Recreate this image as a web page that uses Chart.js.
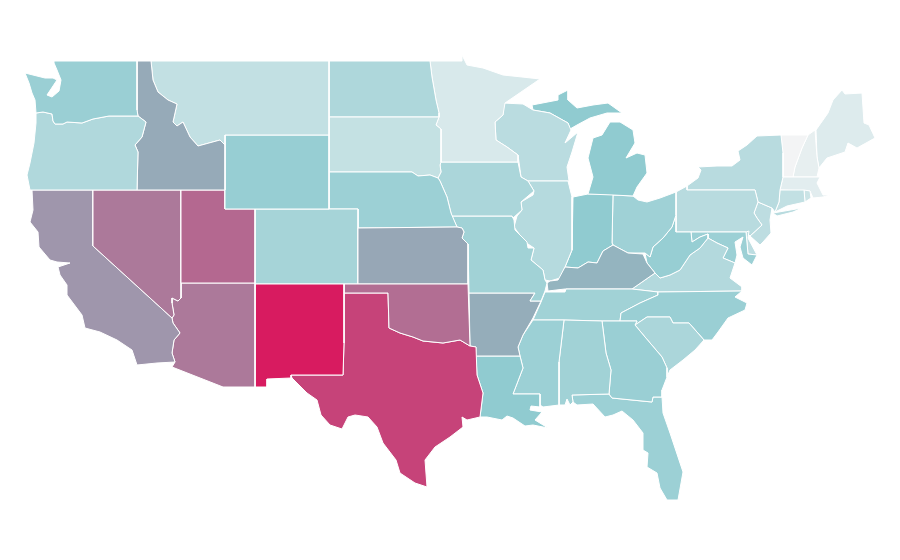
<!DOCTYPE html>
<html>
<head>
<meta charset="utf-8">
<title>US states choropleth</title>
<script src="https://cdn.jsdelivr.net/npm/chart.js@4.4.1/dist/chart.umd.min.js"></script>
<style>
  html, body { margin: 0; padding: 0; background: #fff; }
  #map { display: block; }
</style>
</head>
<body>
<canvas id="map" width="900" height="560"></canvas>
<script>
// State outlines in map units, [x, y] pairs
var WA = [[54,61],[137,61],[137,110],[138,116],[109,116],[93,119],[82,123],[67,122],[63,124],[55,124],[53,121],[52,114],[43,112],[36,113],[35,100],[32,93],[29,83],[25,73],[37,76],[45,78],[53,78],[57,80],[51,89],[47,95],[52,97],[59,91],[61,80],[57,70],[54,63]];
var OR = [[36,113],[43,112],[52,114],[53,121],[55,124],[63,124],[67,122],[82,123],[93,119],[109,116],[138,116],[146,122],[142,137],[135,145],[138,152],[137,190],[30,190],[27,175],[30,163],[34,143],[36,123]];
var ID = [[137,61],[151,61],[153,80],[158,92],[168,100],[177,104],[173,122],[177,126],[183,122],[190,137],[198,146],[220,140],[225,145],[225,190],[137,190],[138,152],[135,145],[142,137],[146,122],[138,116],[137,110]];
var MT = [[151,61],[329,61],[329,135],[225,135],[225,145],[220,140],[198,146],[190,137],[183,122],[177,126],[173,122],[177,104],[168,100],[158,92],[153,80]];
var WY = [[225,135],[329,135],[329,209],[255,209],[225,209]];
var UT = [[181,190],[225,190],[225,209],[255,209],[255,283],[181,283]];
var NV = [[93,190],[181,190],[181,298],[178,301],[172,298],[172,303],[174,315],[172,318],[93,246]];
var CA = [[32,190],[93,190],[93,246],[172,318],[173,323],[180,333],[174,340],[172,353],[175,362],[157,363],[137,365],[132,350],[117,340],[100,332],[85,328],[82,315],[67,295],[67,285],[60,275],[58,267],[70,263],[57,262],[50,260],[39,247],[38,232],[30,222],[33,210]];
var AZ = [[181,283],[255,283],[255,387],[223,387],[172,367],[175,362],[172,353],[174,340],[180,333],[173,323],[172,318],[174,315],[172,303],[172,298],[178,301],[181,298]];
var NM = [[255,284],[344,284],[344,343],[343,375],[291,375],[291,378],[267,379],[267,387],[255,387]];
var TX = [[344,293],[388,293],[389,328],[400,333],[413,337],[423,341],[443,343],[460,340],[470,346],[476,347],[477,375],[483,393],[480,417],[467,420],[462,417],[463,427],[450,437],[435,447],[425,460],[427,487],[415,483],[400,473],[396,460],[383,443],[377,427],[368,417],[355,415],[348,417],[342,429],[330,425],[321,415],[317,400],[307,393],[292,378],[291,375],[343,375],[344,343]];
var OK = [[344,284],[468,284],[470,346],[460,340],[443,343],[423,341],[413,337],[400,333],[389,328],[388,293],[344,293]];
var KS = [[358,228],[457,227],[462,228],[464,232],[462,238],[468,244],[468,284],[358,284]];
var CO = [[255,209],[358,209],[358,284],[255,284]];
var NE = [[329,172],[412,172],[418,176],[430,175],[438,178],[440,181],[447,197],[451,213],[457,227],[358,228],[358,209],[329,209]];
var SD = [[329,117],[439,117],[436,125],[441,129],[441,162],[440,165],[441,172],[438,178],[430,175],[418,176],[412,172],[329,172]];
var ND = [[329,61],[430,61],[432,77],[436,100],[439,113],[439,117],[329,117]];
var MN = [[430,61],[462,61],[462,55],[467,65],[483,68],[503,75],[522,77],[540,79],[505,103],[503,115],[495,122],[496,140],[507,147],[518,155],[518,162],[441,162],[441,129],[436,125],[439,117],[439,113],[436,100],[432,77]];
var IA = [[441,162],[518,162],[521,177],[528,181],[534,191],[521,202],[522,210],[513,218],[512,216],[452,216],[451,213],[447,197],[440,181],[438,178],[441,172],[440,165]];
var MO = [[452,216],[512,216],[514,220],[515,230],[527,242],[528,248],[534,248],[531,260],[543,270],[545,280],[547,283],[545,291],[541,301],[530,301],[535,293],[469,293],[468,244],[462,238],[464,232],[462,228],[457,227]];
var AR = [[469,293],[535,293],[530,301],[541,301],[533,318],[523,335],[518,347],[520,356],[476,356],[476,347],[470,346]];
var LA = [[476,356],[520,356],[523,368],[513,394],[540,394],[540,407],[531,406],[530,410],[542,412],[535,420],[548,428],[533,425],[525,426],[513,418],[507,416],[502,420],[487,417],[480,417],[483,393],[477,375]];
var MS = [[533,320],[564,320],[559,362],[559,405],[543,407],[540,405],[540,394],[513,394],[523,368],[520,356],[518,347],[523,335]];
var AL = [[564,320],[602,321],[606,353],[611,370],[609,394],[572,395],[573,402],[570,405],[567,399],[565,405],[559,405],[559,362]];
var GA = [[602,321],[637,321],[635,325],[645,337],[662,357],[667,368],[667,377],[662,390],[662,397],[653,397],[652,402],[612,398],[609,394],[611,370],[606,353]];
var FL = [[572,395],[609,394],[612,398],[652,402],[653,397],[662,397],[663,413],[670,433],[683,472],[678,500],[667,500],[660,488],[657,473],[647,467],[648,453],[643,450],[643,433],[633,420],[622,411],[613,415],[605,417],[593,404],[577,405],[573,402]];
var SC = [[635,325],[647,317],[670,317],[673,323],[689,323],[704,340],[695,350],[683,360],[670,370],[667,377],[667,368],[662,357],[645,337]];
var NC = [[658,292],[742,291],[735,297],[747,303],[745,310],[728,318],[718,332],[712,340],[704,340],[689,323],[673,323],[670,317],[647,317],[635,325],[637,321],[620,321],[621,313],[640,303],[658,295]];
var TN = [[533,320],[541,302],[545,292],[565,292],[566,289],[632,289],[658,292],[658,295],[640,303],[621,313],[620,321],[602,321],[564,320]];
var KY = [[548,291],[565,289],[632,289],[655,273],[647,263],[643,254],[628,253],[613,245],[603,251],[597,263],[588,262],[578,268],[565,267],[558,280],[550,281],[547,283]];
var IL = [[528,181],[568,181],[572,197],[572,250],[565,267],[560,278],[550,281],[545,280],[543,270],[531,260],[534,248],[525,242],[514,227],[517,216],[522,210],[521,202],[533,195],[534,191]];
var WI = [[503,103],[523,104],[533,110],[550,113],[568,123],[571,130],[565,143],[578,132],[572,152],[567,167],[569,181],[528,181],[521,177],[518,155],[507,147],[496,140],[495,122],[503,115]];
var MI_UPPER = [[532,105],[558,100],[558,95],[568,90],[568,100],[577,108],[593,105],[608,103],[622,113],[607,113],[590,118],[577,125],[570,129],[568,123],[550,113],[533,110]];
var MI_LOWER = [[588,194],[593,177],[588,158],[593,138],[602,135],[610,122],[620,122],[633,130],[635,143],[626,158],[637,153],[645,155],[647,173],[637,187],[633,196],[613,195]];
var IN = [[573,197],[588,194],[613,194],[612,243],[613,245],[603,251],[597,263],[588,262],[578,268],[565,267],[572,250]];
var OH = [[613,195],[633,196],[638,200],[647,202],[660,198],[676,192],[676,215],[672,227],[663,238],[653,247],[650,257],[645,253],[628,253],[613,245],[612,243]];
var WV = [[676,215],[676,232],[691,232],[692,242],[700,237],[708,234],[708,238],[700,248],[690,255],[680,270],[670,275],[660,278],[655,273],[647,263],[645,253],[650,257],[653,247],[663,238],[672,227]];
var VA = [[632,289],[655,273],[660,278],[670,275],[680,270],[690,255],[700,248],[708,238],[717,243],[728,248],[723,258],[735,263],[730,278],[742,287],[742,291],[658,292]];
var MD = [[691,232],[746,232],[748,254],[757,255],[752,265],[743,258],[740,247],[743,237],[735,242],[737,255],[735,263],[723,258],[728,248],[717,243],[708,238],[708,234],[700,237],[692,242]];
var DE = [[746,232],[749,231],[748,238],[757,255],[748,254]];
var PA = [[676,192],[687,186],[687,190],[755,190],[758,202],[754,213],[757,218],[762,225],[750,236],[746,232],[691,232],[676,232]];
var NY = [[687,186],[698,178],[701,170],[698,167],[717,166],[732,166],[740,160],[738,151],[747,145],[757,136],[781,135],[783,153],[783,177],[780,190],[779,202],[775,212],[772,208],[758,202],[755,190],[687,190]];
var LONG_ISLAND = [[773,213],[802,208],[793,212],[777,216]];
var NJ = [[758,202],[772,208],[770,220],[771,233],[763,242],[760,245],[750,236],[762,225],[757,218],[754,213]];
var CT = [[780,190],[804,190],[805,202],[787,206],[775,212],[779,202]];
var RI = [[804,190],[810,191],[811,198],[805,202]];
var MA = [[783,177],[817,177],[820,177],[817,183],[823,195],[830,195],[823,197],[813,198],[810,191],[780,190]];
var VT = [[781,135],[808,135],[802,148],[795,167],[793,177],[783,177],[783,153]];
var NH = [[808,135],[815,130],[817,157],[819,168],[817,177],[793,177],[795,167],[802,148]];
var ME = [[816,130],[828,113],[833,100],[842,90],[845,94],[862,93],[864,123],[869,125],[875,138],[857,148],[848,143],[845,152],[827,158],[819,168],[817,157]];

var stateNames = ["Washington","Oregon","Idaho","Montana","Wyoming","Utah","Nevada","California","Arizona","New Mexico","Oklahoma","Texas","Kansas","Colorado","Nebraska","South Dakota","North Dakota","Minnesota","Iowa","Missouri","Arkansas","Louisiana","Mississippi","Alabama","Georgia","Florida","South Carolina","North Carolina","Tennessee","Kentucky","Illinois","Wisconsin","Michigan","Michigan","Indiana","Ohio","West Virginia","Virginia","Maryland","Delaware","Pennsylvania","New York","New York","New Jersey","Connecticut","Rhode Island","Massachusetts","Vermont","New Hampshire","Maine"];
var stateOutlines = [WA,OR,ID,MT,WY,UT,NV,CA,AZ,NM,OK,TX,KS,CO,NE,SD,ND,MN,IA,MO,AR,LA,MS,AL,GA,FL,SC,NC,TN,KY,IL,WI,MI_UPPER,MI_LOWER,IN,OH,WV,VA,MD,DE,PA,NY,LONG_ISLAND,NJ,CT,RI,MA,VT,NH,ME];
var stateValues = [36,27,50,20,37,73,67,57,67,100,71,86,51,31,35,19,28,11,29,33,49,40,35,33,36,35,29,36,33,47,25,23,40,40,40,34,37,26,35,22,24,24,24,22,20,16,7,0,5,9];

// Colour scale stops: value, then r, g, b
var scaleValues = [0, 40, 50, 100];
var scaleColors = [[243,244,245],[144,203,208],[150,170,184],[216,27,96]];

function colorFor(value) {
  var i = 0;
  while (i < scaleValues.length - 2 && value > scaleValues[i + 1]) { i++; }
  var t = (value - scaleValues[i]) / (scaleValues[i + 1] - scaleValues[i]);
  var a = scaleColors[i];
  var b = scaleColors[i + 1];
  return "rgb(" + Math.round(a[0] + (b[0] - a[0]) * t) + "," +
                  Math.round(a[1] + (b[1] - a[1]) * t) + "," +
                  Math.round(a[2] + (b[2] - a[2]) * t) + ")";
}

// One closed line dataset per outline
var datasets = stateOutlines.map(function (outline, i) {
  var pts = outline.map(function (p) { return { x: p[0], y: p[1] }; });
  pts.push({ x: outline[0][0], y: outline[0][1] });
  return {
    label: stateNames[i],
    data: pts,
    showLine: true,
    fill: "shape",
    backgroundColor: colorFor(stateValues[i]),
    borderColor: "#ffffff",
    borderWidth: 1,
    borderJoinStyle: "round",
    tension: 0,
    pointRadius: 0,
    pointHoverRadius: 0
  };
});

new Chart(document.getElementById("map").getContext("2d"), {
  type: "scatter",
  data: { datasets: datasets },
  options: {
    responsive: false,
    animation: false,
    layout: { padding: 0 },
    plugins: {
      legend: { display: false },
      tooltip: { enabled: false }
    },
    scales: {
      x: { type: "linear", display: false, min: 0, max: 900 },
      y: { type: "linear", display: false, min: 0, max: 560, reverse: true }
    }
  }
});
</script>
</body>
</html>
